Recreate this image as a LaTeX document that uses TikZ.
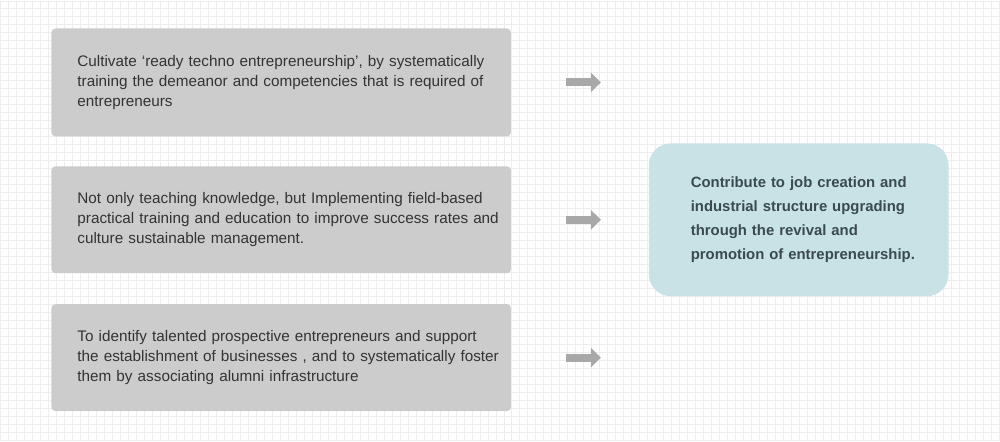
\documentclass[tikz,border=0pt]{standalone}
\usepackage{fontspec}
\setmainfont{Liberation Sans}
\usetikzlibrary{arrows.meta}
\definecolor{gridgray}{HTML}{EDEDED}
\definecolor{boxgray}{HTML}{CCCCCC}
\definecolor{textgray}{HTML}{333333}
\definecolor{arrowgray}{HTML}{A8A8A8}
\definecolor{goalteal}{HTML}{C8E2E6}
\definecolor{goaltext}{HTML}{3A4A50}
\tikzset{
  gridline/.style={gridgray,line width=1pt},
  stepbox/.style={fill=boxgray,rounded corners=4pt,text=textgray,minimum width=460pt,
    inner xsep=10pt,text width=440pt,align=left,font=\fontsize{15.3}{20}\selectfont,
    execute at begin node={\leftskip=16pt}},
  goalbox/.style={fill=goalteal,rounded corners=22pt,text=goaltext,minimum width=300pt,
    minimum height=153pt,inner xsep=30pt,text width=240pt,align=left,
    font=\bfseries\fontsize{14.9}{24}\selectfont,execute at begin node={\leftskip=12pt}},
  flowarrow/.style={arrowgray,line width=8pt,-{Triangle[length=10pt,width=19pt]}}
}
\begin{document}
\begin{tikzpicture}[x=1pt,y=-1pt]
\fill[white] (0,0) rectangle (1000,441);
\foreach \x in {8,16,...,992} {
    \draw[gridline] (\x,0) -- (\x,441);
}
\foreach \y in {8,16,...,440} {
    \draw[gridline] (0,\y) -- (1000,\y);
}
\draw[gridline] (0.5,0.5) rectangle (999.5,440.5);

\node[stepbox,minimum height=108pt] (b1) at (281,82) {Cultivate ‘ready techno entrepreneurship’, by systematically\\training the demeanor and competencies that is required of\\entrepreneurs};
\node[stepbox,minimum height=107pt] (b2) at (281,219.5) {Not only teaching knowledge, but Implementing field-based\\practical training and education to improve success rates and\\culture sustainable management.};
\node[stepbox,minimum height=107pt] (b3) at (281,357.5) {To identify talented prospective entrepreneurs and support\\the establishment of businesses , and to systematically foster\\them by associating alumni infrastructure};

\node[goalbox] (goal) at (799,219.5) {Contribute to job creation and\\industrial structure upgrading\\through the revival and\\promotion of entrepreneurship.};

\foreach \n/\y in {1/82, 2/219.5, 3/357.5} {
    \coordinate (s\n) at (566,\y);
    \coordinate (e\n) at (601,\y);
    \draw[flowarrow] (s\n) -- (e\n);
}
\end{tikzpicture}
\end{document}
